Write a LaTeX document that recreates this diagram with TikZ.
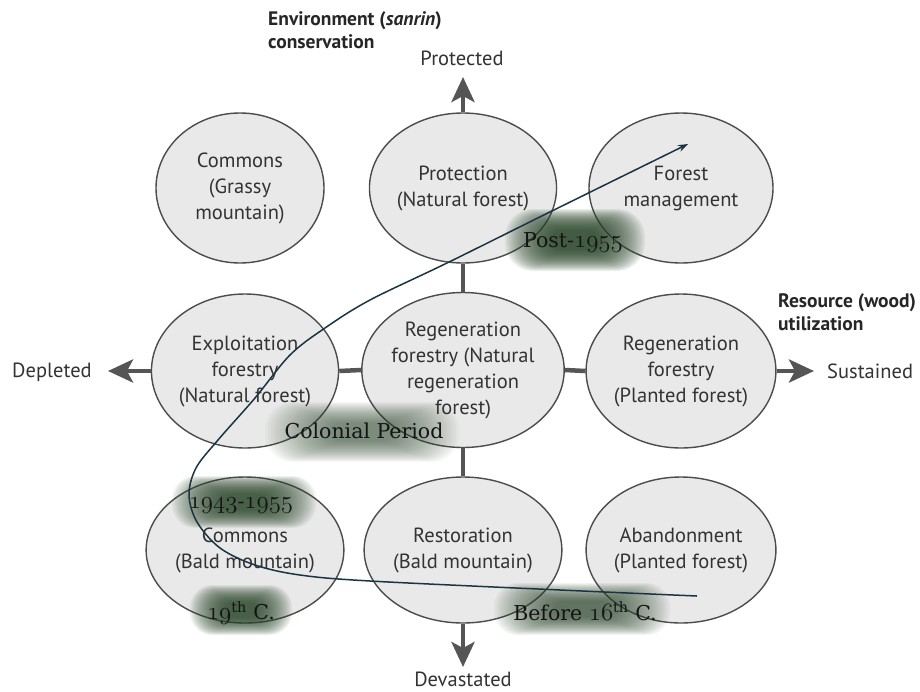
\documentclass[tikz,border=0pt]{standalone}
\usepackage{fontspec}
\setsansfont{PT Sans}
\newfontfamily\erafont{DejaVu Serif}
\usetikzlibrary{shapes.geometric,arrows.meta}
\definecolor{axisgray}{HTML}{555555}
\definecolor{ellfill}{HTML}{E9E9E9}
\definecolor{ellline}{HTML}{4C4C4C}
\definecolor{txtgray}{HTML}{333333}
\definecolor{curvec}{HTML}{1B3443}
\definecolor{blobc}{HTML}{2A462A}
\newcommand\osn[1]{{\fontsize{25}{24}\usefont{OML}{cmm}{m}{it}#1}}
% soft blurred blob: centre x, centre y, half width, half height, opacity per layer
\newcommand\softblob[5]{%
  \foreach \k in {0,...,23}{%
    \pgfmathsetmacro\sc{1-0.72*\k/24}%
    \pgfmathsetmacro\rr{#4*\sc*0.9}%
    \fill[blobc, opacity=#5, rounded corners=\rr pt]
      ({#1-#3*\sc},{#2-#4*\sc}) rectangle ({#1+#3*\sc},{#2+#4*\sc});
  }}
\begin{document}
\begin{tikzpicture}[x=1pt,y=-1pt,
  ellnode/.style={ellipse, draw=ellline, fill=ellfill, line width=1.4pt, inner sep=0pt,
    align=center, text=txtgray, font=\sffamily\fontsize{20.5}{26}\selectfont,
    minimum width=180pt, minimum height=150pt},
  axisline/.style={draw=axisgray, line width=4.5pt},
  axisarrow/.style={axisline, -{Stealth[length=25pt,width=23pt,inset=6pt]}},
  axlabel/.style={text=txtgray, font=\sffamily\fontsize{20.5}{24}\selectfont, inner sep=0pt},
  boldlabel/.style={text=black!85, font=\sffamily\bfseries\fontsize{19.5}{23}\selectfont, inner sep=0pt, align=left},
  era/.style={text=black!92, font=\erafont\fontsize{20.5}{24}\selectfont, inner sep=0pt}]
\useasboundingbox (0,0) rectangle (920,691);
\fill[white] (0,0) rectangle (920,691);

% ellipses
\node[ellnode, minimum width=168pt] (cg) at (240,188) {Commons\\(Grassy\\mountain)};
\node[ellnode] (prot) at (463,188) {Protection\\(Natural forest)};
\node[ellnode, minimum width=184pt] (fm) at (681,188) {Forest\\management};
\node[ellnode, minimum height=154pt] (expl) at (245,371) {Exploitation\\forestry\\(Natural forest)};
\node[ellnode, minimum height=155pt] (regm) at (463,370) {Regeneration\\forestry (Natural\\regeneration\\forest)};
\node[ellnode, minimum height=154pt] (regr) at (681,371) {Regeneration\\forestry\\(Planted forest)};
\node[ellnode, minimum height=146pt] (cb) at (245,550) {Commons\\(Bald mountain)};
\node[ellnode, minimum height=146pt] (rest) at (463,550) {Restoration\\(Bald mountain)};
\node[ellnode, minimum height=146pt] (aban) at (681,550) {Abandonment\\(Planted forest)};

% axes
\coordinate (ptip) at (463,77);
\coordinate (dtip) at (463,667);
\coordinate (ltip) at (108,371);
\coordinate (rtip) at (814,371);
\draw[axisarrow] (prot.north) -- (ptip);
\draw[axisline] (prot.south) -- (regm.north);
\draw[axisline] (regm.south) -- (rest.north);
\draw[axisarrow] (rest.south) -- (dtip);
\draw[axisarrow] (expl.west) -- (ltip);
\draw[axisline] (expl.east) -- (regm.west);
\draw[axisline] (regm.east) -- (regr.west);
\draw[axisarrow] (regr.east) -- (rtip);

% axis labels
\node[axlabel] (protl) at (462,58) {Protected};
\node[axlabel] (devl) at (463,679) {Devastated};
\node[axlabel, anchor=west] (depl) at (12,372) {Depleted};
\node[axlabel, anchor=west] (sustl) at (827,371) {Sustained};
\node[boldlabel, anchor=north west] (envl) at (268,11) {Environment (\textit{sanrin})\\conservation};
\node[boldlabel, anchor=north west] (resl) at (778,293) {Resource (wood)\\utilization};

% era blobs
\softblob{575}{240}{70}{31}{0.08}
\softblob{362}{432}{97}{30}{0.036}
\softblob{244}{502}{72}{26}{0.068}
\softblob{241}{610}{51}{25}{0.068}
\softblob{582}{609}{88}{26}{0.052}

\node[era] (post) at (573,242) {Post-\osn{1955}};
\node[era] (colo) at (364,431) {Colonial Period};
\node[era] (e4355) at (241,506) {\osn{1943}-\osn{1955}};
\node[era] (e19) at (241,613) {\osn{19}\textsuperscript{th} C.};
\node[era] (e16) at (585,611) {Before \osn{16}\textsuperscript{th} C.};

% trajectory
\coordinate (cstart) at (697,596);
\coordinate (cend) at (688,144);
\draw[curvec, line width=1.5pt, -{Stealth[length=10pt,width=7pt]}]
  plot[smooth, tension=0.55] coordinates {(697,596) (560,590) (370,581) (300,575) (255,565) (220,548) (197,522) (189,495) (196,468) (218,440) (255,398) (290,355) (325,328) (370,300) (447,263) (560,207) (688,144)};
\end{tikzpicture}
\end{document}
